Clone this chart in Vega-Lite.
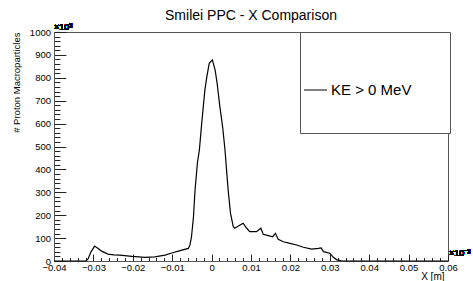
{
  "$schema": "https://vega.github.io/schema/vega-lite/v6.json",
  "width": 394,
  "height": 229,
  "autosize": {"type": "none"},
  "padding": {"left": 54, "top": 32, "right": 25, "bottom": 20},
  "background": "white",
  "title": {"text": "Smilei PPC - X Comparison", "frame": "group", "anchor": "middle", "offset": 0, "fontSize": 14, "font": "Liberation Sans", "fontWeight": "normal", "color": "black"},
  "config": {"view": {"stroke": "#555", "strokeWidth": 1}, "font": "Liberation Sans", "axis": {"labelOverlap": false, "labelFlush": false}},
  "data": {"values": [
    {"x": -0.04, "n": 0, "s": "KE > 0 MeV"},
    {"x": -0.0319, "n": 0, "s": "KE > 0 MeV"},
    {"x": -0.0314, "n": 8, "s": "KE > 0 MeV"},
    {"x": -0.0306, "n": 40, "s": "KE > 0 MeV"},
    {"x": -0.0297, "n": 65, "s": "KE > 0 MeV"},
    {"x": -0.0288, "n": 55, "s": "KE > 0 MeV"},
    {"x": -0.0278, "n": 42, "s": "KE > 0 MeV"},
    {"x": -0.0263, "n": 30, "s": "KE > 0 MeV"},
    {"x": -0.0248, "n": 27, "s": "KE > 0 MeV"},
    {"x": -0.0233, "n": 26, "s": "KE > 0 MeV"},
    {"x": -0.0202, "n": 20, "s": "KE > 0 MeV"},
    {"x": -0.0169, "n": 16, "s": "KE > 0 MeV"},
    {"x": -0.0144, "n": 18, "s": "KE > 0 MeV"},
    {"x": -0.0118, "n": 26, "s": "KE > 0 MeV"},
    {"x": -0.0101, "n": 35, "s": "KE > 0 MeV"},
    {"x": -0.008, "n": 45, "s": "KE > 0 MeV"},
    {"x": -0.0059, "n": 55, "s": "KE > 0 MeV"},
    {"x": -0.0055, "n": 70, "s": "KE > 0 MeV"},
    {"x": -0.0051, "n": 106, "s": "KE > 0 MeV"},
    {"x": -0.0046, "n": 193, "s": "KE > 0 MeV"},
    {"x": -0.0042, "n": 310, "s": "KE > 0 MeV"},
    {"x": -0.0036, "n": 428, "s": "KE > 0 MeV"},
    {"x": -0.0031, "n": 485, "s": "KE > 0 MeV"},
    {"x": -0.0025, "n": 603, "s": "KE > 0 MeV"},
    {"x": -0.0017, "n": 747, "s": "KE > 0 MeV"},
    {"x": -0.0012, "n": 805, "s": "KE > 0 MeV"},
    {"x": -0.0006, "n": 863, "s": "KE > 0 MeV"},
    {"x": 0.0002, "n": 878, "s": "KE > 0 MeV"},
    {"x": 0.0009, "n": 834, "s": "KE > 0 MeV"},
    {"x": 0.0014, "n": 776, "s": "KE > 0 MeV"},
    {"x": 0.0021, "n": 674, "s": "KE > 0 MeV"},
    {"x": 0.0028, "n": 586, "s": "KE > 0 MeV"},
    {"x": 0.0034, "n": 485, "s": "KE > 0 MeV"},
    {"x": 0.0038, "n": 397, "s": "KE > 0 MeV"},
    {"x": 0.0042, "n": 310, "s": "KE > 0 MeV"},
    {"x": 0.0048, "n": 208, "s": "KE > 0 MeV"},
    {"x": 0.0055, "n": 150, "s": "KE > 0 MeV"},
    {"x": 0.0059, "n": 143, "s": "KE > 0 MeV"},
    {"x": 0.0068, "n": 153, "s": "KE > 0 MeV"},
    {"x": 0.008, "n": 165, "s": "KE > 0 MeV"},
    {"x": 0.0089, "n": 143, "s": "KE > 0 MeV"},
    {"x": 0.0097, "n": 128, "s": "KE > 0 MeV"},
    {"x": 0.0114, "n": 128, "s": "KE > 0 MeV"},
    {"x": 0.0125, "n": 143, "s": "KE > 0 MeV"},
    {"x": 0.0131, "n": 117, "s": "KE > 0 MeV"},
    {"x": 0.0144, "n": 111, "s": "KE > 0 MeV"},
    {"x": 0.0155, "n": 106, "s": "KE > 0 MeV"},
    {"x": 0.0162, "n": 121, "s": "KE > 0 MeV"},
    {"x": 0.0169, "n": 95, "s": "KE > 0 MeV"},
    {"x": 0.0182, "n": 84, "s": "KE > 0 MeV"},
    {"x": 0.0199, "n": 77, "s": "KE > 0 MeV"},
    {"x": 0.0216, "n": 70, "s": "KE > 0 MeV"},
    {"x": 0.0233, "n": 60, "s": "KE > 0 MeV"},
    {"x": 0.0254, "n": 52, "s": "KE > 0 MeV"},
    {"x": 0.0271, "n": 55, "s": "KE > 0 MeV"},
    {"x": 0.0278, "n": 57, "s": "KE > 0 MeV"},
    {"x": 0.0284, "n": 41, "s": "KE > 0 MeV"},
    {"x": 0.03, "n": 34, "s": "KE > 0 MeV"},
    {"x": 0.0309, "n": 16, "s": "KE > 0 MeV"},
    {"x": 0.0318, "n": 5, "s": "KE > 0 MeV"},
    {"x": 0.033, "n": 1, "s": "KE > 0 MeV"},
    {"x": 0.0341, "n": 0, "s": "KE > 0 MeV"},
    {"x": 0.06, "n": 0, "s": "KE > 0 MeV"}
  ]},
  "layer": [
    {
      "mark": {"type": "line", "strokeWidth": 1.2, "interpolate": "linear"},
      "encoding": {
        "x": {
          "field": "x", "type": "quantitative",
          "scale": {"domain": [-0.04, 0.06], "nice": false, "zero": false},
          "axis": {
            "values": [-0.04,-0.038,-0.036,-0.034,-0.032,-0.03,-0.028,-0.026,-0.024,-0.022,-0.02,-0.018,-0.016,-0.014,-0.012,-0.01,-0.008,-0.006,-0.004,-0.002,0,0.002,0.004,0.006,0.008,0.01,0.012,0.014,0.016,0.018,0.02,0.022,0.024,0.026,0.028,0.03,0.032,0.034,0.036,0.038,0.04,0.042,0.044,0.046,0.048,0.05,0.052,0.054,0.056,0.058,0.06],
            "tickCount": 100,
            "ticks": true,
            "tickSize": {"condition": {"test": "abs(datum.value*100 - round(datum.value*100)) < 1e-6", "value": -6.9}, "value": -3.5},
            "labelPadding": 8, "labelFontSize": 9.5, "labelFont": "Liberation Sans", "labelColor": "black",
            "labelFlush": false, "labelOverlap": false,
            "labelExpr": "abs(datum.value*100 - round(datum.value*100)) < 1e-6 ? format(datum.value, '~g') : ''",
            "domainColor": "#555", "tickColor": "#222", "tickWidth": 1, "grid": false,
            "title": "X [m]", "titleFontSize": 10, "titleFont": "Liberation Sans", "titleFontWeight": "normal", "titleColor": "black",
            "titleAnchor": "end", "titleAlign": "right", "titleBaseline": "alphabetic", "titleX": 390, "titleY": 18.5, "titleAngle": 0
          }
        },
        "y": {
          "field": "n", "type": "quantitative",
          "scale": {"domain": [0, 1000], "nice": false},
          "axis": {
            "values": [0,20,40,60,80,100,120,140,160,180,200,220,240,260,280,300,320,340,360,380,400,420,440,460,480,500,520,540,560,580,600,620,640,660,680,700,720,740,760,780,800,820,840,860,880,900,920,940,960,980,1000],
            "tickCount": 100,
            "ticks": true,
            "tickSize": {"condition": {"test": "datum.value % 100 === 0", "value": -11.8}, "value": -5.9},
            "labelPadding": 15.3, "labelFontSize": 9.5, "labelFont": "Liberation Sans", "labelColor": "black",
            "labelFlush": false, "labelOverlap": false, "labelBaseline": "middle",
            "labelExpr": "datum.value % 100 === 0 ? '' + datum.value : ''",
            "domainColor": "#555", "tickColor": "#222", "tickWidth": 1, "grid": false,
            "title": "# Proton Macroparticles", "titleFontSize": 9.5, "titleFont": "Liberation Sans", "titleFontWeight": "normal", "titleColor": "black",
            "titleAngle": -90, "titleAlign": "right", "titleBaseline": "middle", "titleX": -38, "titleY": 0
          }
        },
        "color": {
          "field": "s", "type": "nominal",
          "scale": {"range": ["black"]},
          "legend": {
            "orient": "none", "legendX": 246, "legendY": 0, "title": null, "padding": 0,
            "strokeColor": "#555", "fillColor": "white",
            "symbolType": "M-1,-1M1.557,0.704M-0.939,0L-0.539,0",
            "symbolSize": 13225, "symbolStrokeWidth": 1, "symbolStrokeColor": "black",
            "labelOffset": -85, "labelFontSize": 15, "labelFont": "Liberation Sans", "labelColor": "black", "labelLimit": 300
          }
        }
      }
    },
    {
      "mark": {"type": "text", "text": "×10³", "align": "left", "baseline": "bottom", "fontSize": 9, "font": "Liberation Sans", "color": "black", "dx": 0, "dy": 0},
      "encoding": {"x": {"datum": -0.04, "type": "quantitative"}, "y": {"datum": 1000, "type": "quantitative"}}
    },
    {
      "mark": {"type": "text", "text": "×10⁻³", "align": "left", "baseline": "bottom", "fontSize": 9, "font": "Liberation Sans", "color": "black", "dx": 1, "dy": -3},
      "encoding": {"x": {"datum": 0.06, "type": "quantitative"}, "y": {"datum": 0, "type": "quantitative"}}
    }
  ]
}
